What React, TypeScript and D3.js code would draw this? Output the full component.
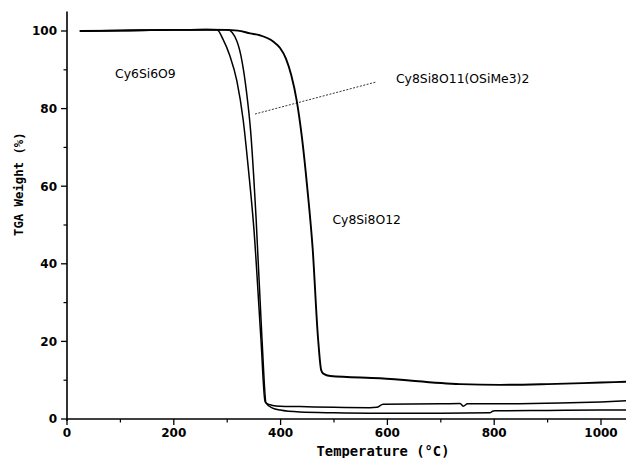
import React from "react";
import * as d3 from "d3";

// TGA curves (temperature in °C, weight in %)
const tempA = [24, 100, 200, 260, 281, 292, 305, 318, 330, 340, 350, 363, 371, 385, 399, 436, 500, 567, 700, 792, 797, 801, 900, 1000, 1050];
const wtA = [100, 100.1, 100.3, 100.4, 100.3, 97.9, 93.6, 87.2, 77, 64, 49, 21, 4.4, 2.8, 2.3, 1.8, 1.6, 1.5, 1.5, 1.6, 2.0, 2.1, 2.2, 2.3, 2.3];

const tempB = [24, 100, 200, 260, 301, 318, 328, 336, 344, 354, 365, 373, 385, 399, 436, 500, 567, 580, 592, 700, 736, 742, 750, 811, 923, 1000, 1050];
const wtB = [100, 100.1, 100.3, 100.4, 100.3, 97.4, 92, 84.5, 74, 52, 21, 4.1, 3.5, 3.3, 3.2, 3.0, 2.9, 3.0, 3.8, 3.9, 4.0, 3.3, 3.9, 3.9, 4.1, 4.4, 4.7];

const tempC = [24, 100, 200, 296, 320, 343, 361, 386, 399, 410, 420, 430, 440, 450, 460, 470, 476, 480, 493, 586, 736, 811, 900, 1000, 1050];
const wtC = [100, 100.1, 100.3, 100.3, 100.1, 99.4, 98.9, 97.3, 95.6, 92.9, 88.6, 82.2, 72.5, 59.5, 44, 21, 12.6, 11.7, 11.1, 10.5, 9.0, 8.8, 9.0, 9.4, 9.6];

const xMajor = [0, 200, 400, 600, 800, 1000];
const xMinor = [100, 300, 500, 700, 900];
const yMajor = [0, 20, 40, 60, 80, 100];
const yMinor = [10, 30, 50, 70, 90];

// label text and anchor in data coords
const labels = ["Cy6Si6O9", "Cy8Si8O11(OSiMe3)2", "Cy8Si8O12"];
const labelT = [90, 616, 497];
const labelW = [88, 86.5, 50.3];
const leaderT = [352, 580];
const leaderW = [78.6, 86.9];

const W = 626;
const H = 458;

export default function App() {
  const x = d3.scaleLinear().domain([0, 1050]).range([67, 67 + 1050 * 0.534]);
  const y = d3.scaleLinear().domain([0, 105]).range([419, 419 - 105 * 3.88]);

  const line = d3
    .line<[number, number]>()
    .x((d) => x(d[0]))
    .y((d) => y(d[1]))
    .curve(d3.curveMonotoneX);

  const series = [
    { t: tempA, w: wtA, sw: 1.5 },
    { t: tempB, w: wtB, sw: 1.5 },
    { t: tempC, w: wtC, sw: 1.9 },
  ];

  const tickFont = { fontFamily: "DejaVu Sans", fontWeight: "bold", fontSize: 12 } as const;
  const monoFont = { fontFamily: "DejaVu Sans Mono", fontWeight: "bold" } as const;

  return (
    <svg
      width={W}
      height={H}
      style={{ position: "absolute", left: 0, top: 0, background: "#fff" }}
    >
      <rect x={0} y={0} width={W} height={H} fill="#fff" />
      {/* curves */}
      {series.map((s, i) => (
        <path
          key={i}
          d={line(s.t.map((t, j) => [t, s.w[j]]) as [number, number][]) || ""}
          fill="none"
          stroke="#000"
          strokeWidth={s.sw}
          strokeLinejoin="round"
        />
      ))}

      {/* axes */}
      <line x1={x(0)} x2={W} y1={y(0)} y2={y(0)} stroke="#000" strokeWidth={1.6} />
      <line x1={x(0)} x2={x(0)} y1={y(0) + 2} y2={y(105)} stroke="#000" strokeWidth={1.6} />

      {xMajor.map((v) => (
        <g key={"xm" + v}>
          <line x1={x(v)} x2={x(v)} y1={y(0)} y2={y(0) + 6} stroke="#000" strokeWidth={1.3} />
          <text x={x(v)} y={437} textAnchor="middle" {...tickFont}>
            {v}
          </text>
        </g>
      ))}
      {xMinor.map((v) => (
        <line key={"xn" + v} x1={x(v)} x2={x(v)} y1={y(0)} y2={y(0) + 3.5} stroke="#000" strokeWidth={1.2} />
      ))}
      {yMajor.map((v) => (
        <g key={"ym" + v}>
          <line x1={x(0) - 6} x2={x(0)} y1={y(v)} y2={y(v)} stroke="#000" strokeWidth={1.3} />
          <text x={57} y={y(v)} dy="0.36em" textAnchor="end" {...tickFont}>
            {v}
          </text>
        </g>
      ))}
      {yMinor.map((v) => (
        <line key={"yn" + v} x1={x(0) - 3.5} x2={x(0)} y1={y(v)} y2={y(v)} stroke="#000" strokeWidth={1.2} />
      ))}

      {/* axis titles */}
      <text
        transform={`translate(23,${y(60) - 2}) rotate(-90)`}
        textAnchor="middle"
        fontSize={12.3}
        {...monoFont}
      >
        TGA Weight (%)
      </text>
      <text x={383} y={456} textAnchor="middle" fontSize={13.8} {...monoFont}>
        Temperature (°C)
      </text>

      {/* annotations */}
      <line
        x1={x(leaderT[0])}
        y1={y(leaderW[0])}
        x2={x(leaderT[1])}
        y2={y(leaderW[1])}
        stroke="#000"
        strokeWidth={0.8}
        strokeDasharray="2,1.5"
      />
      {labels.map((l, i) => (
        <text key={l} x={x(labelT[i])} y={y(labelW[i])} fontFamily="DejaVu Sans" fontSize={12.4}>
          {l}
        </text>
      ))}
    </svg>
  );
}
